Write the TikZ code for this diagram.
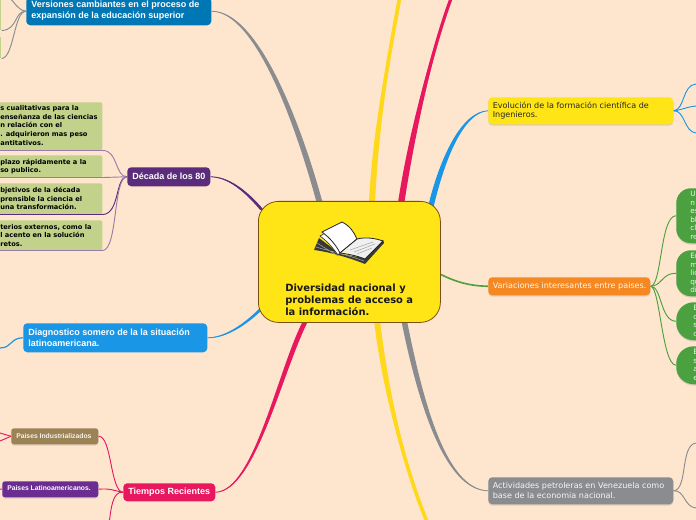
\documentclass[tikz,border=0pt]{standalone}
\usepackage{fontspec}
\setmainfont{Liberation Sans}
\newfontfamily\verd{DejaVu Sans}
\usetikzlibrary{shadows,calc}
\pgfdeclarelayer{bg}\pgfsetlayers{bg,main}
\definecolor{bgc}{HTML}{FEE6CE}
\definecolor{yel}{HTML}{FFE516}
\definecolor{ylin}{HTML}{FFD81C}
\definecolor{lime}{HTML}{C3D28A}
\definecolor{grn}{HTML}{4BA03F}
\definecolor{pur}{HTML}{5B2C7C}
\definecolor{purl}{HTML}{9A7BA6}
\definecolor{pur2}{HTML}{6B2D92}
\definecolor{pnk}{HTML}{E8185F}
\definecolor{blu}{HTML}{1A96E6}
\definecolor{dblu}{HTML}{0077B5}
\definecolor{gry}{HTML}{8A8C90}
\definecolor{brn}{HTML}{7A5010}
\definecolor{khk}{HTML}{9C8355}
\definecolor{org}{HTML}{F58820}
\newcommand\taper[8]{%
 \fill[#1] ($(#2)+(-#3,0)$) .. controls ($#4+(-#3,0)$) and ($#5+(-#7,-#8)$) .. (#6) .. controls ($#5+(#7,#8)$) and ($#4+(#3,0)$) .. ($(#2)+(#3,0)$) -- cycle;
 \draw[#1,line width=.6pt] (#2) .. controls #4 and #5 .. (#6);}
\tikzset{
 x=0.75pt,y=-0.75pt,
 box/.style={anchor=north west,inner sep=0pt,rounded corners=3pt},
 shad/.style={drop shadow={opacity=.25,shadow xshift=0pt,shadow yshift=-1pt}},
 lbl/.style={inner sep=0pt,anchor=west,align=left},
 boldw/.style={text=white,font=\bfseries\fontsize{6.75}{8.2}\selectfont},
 small/.style={lbl,text=white,font=\bfseries\fontsize{5.1}{6}\selectfont},
 topictxt/.style={lbl,font=\verd\fontsize{6.05}{6.9}\selectfont},
 limebox/.style={fill=lime,rounded corners=1.5pt,anchor=north west,inner sep=0pt,minimum width=110*0.75pt},
 limetxt/.style={lbl,font=\verd\bfseries\fontsize{5}{6.4}\selectfont,text=black},
 grnbox/.style={fill=grn,anchor=north west,inner sep=0pt,minimum width=50*0.75pt,shad},
 grntxt/.style={lbl,font=\verd\fontsize{5.5}{6.4}\selectfont,text=white!90!grn},
 thin1/.style={line width=0.7pt},
}
\begin{document}
\begin{tikzpicture}
\useasboundingbox (0,0) rectangle (696,520);
% nodes
\node[fill=yel,draw=brn,line width=.6pt,rounded corners=15pt,anchor=north west,minimum width=182*0.75pt,minimum height=121*0.75pt,inner sep=0pt] (c) at (258,201) {};
\node[box,fill=dblu,minimum width=185*0.75pt,minimum height=28*0.75pt] (v) at (26,-3) {};
\node[box,fill=pur,minimum width=83*0.75pt,minimum height=19*0.75pt] (d) at (127,167) {};
\node[box,fill=blu,minimum width=184*0.75pt,minimum height=29*0.75pt] (g) at (23,323) {};
\node[box,fill=pnk,minimum width=92*0.75pt,minimum height=18*0.75pt] (t) at (123,483) {};
\node[box,fill=khk,rounded corners=2pt,minimum width=87*0.75pt,minimum height=16*0.75pt,shad] (pi) at (11,428) {};
\node[box,fill=pur2,rounded corners=2pt,minimum width=96*0.75pt,minimum height=16*0.75pt,shad] (pl) at (2,481) {};
\node[box,fill=yel,minimum width=185*0.75pt,minimum height=27*0.75pt,shad] (e) at (488,97) {};
\node[box,fill=org,minimum width=162*0.75pt,minimum height=18*0.75pt,shad] (va) at (488,277) {};
\node[box,fill=gry,minimum width=185*0.75pt,minimum height=27*0.75pt,shad] (a) at (488,477) {};
\node[limebox,minimum height=48*0.75pt] (l1) at (-8,102) {};
\node[limebox,minimum height=22*0.75pt] (l2) at (-8,155) {};
\node[limebox,minimum height=31*0.75pt] (l3) at (-8,183) {};
\node[limebox,minimum height=30*0.75pt] (l4) at (-8,220) {};
\node[fill=lime,anchor=north west,inner sep=0pt,minimum width=9*0.75pt,minimum height=35*0.75pt] (v1) at (-8,-5) {};
\node[fill=lime,anchor=north west,inner sep=0pt,minimum width=9*0.75pt,minimum height=21*0.75pt] (v2) at (-8,37) {};
\node[grnbox,rounded corners=11pt,minimum height=55*0.75pt] (g1) at (676,188) {};
\node[grnbox,rounded corners=11pt,minimum height=46*0.75pt] (g2) at (676,250) {};
\node[grnbox,rounded corners=13pt,minimum height=38*0.75pt] (g3) at (676,302) {};
\node[grnbox,rounded corners=13pt,minimum height=38*0.75pt] (g4) at (676,346) {};
% free ends
\coordinate (cU1) at (320,204); \coordinate (cU2) at (372,204); \coordinate (cU3) at (401,204); \coordinate (cU4) at (431,206);
\coordinate (cR) at (438,273);
\coordinate (cD1) at (306,320); \coordinate (cD2) at (377,320); \coordinate (cD3) at (404,320);
\coordinate (cL1) at (262,210); \coordinate (cL2) at (262,308);
\coordinate (top2) at (400,-4); \coordinate (top3) at (452,-4); \coordinate (bot2) at (428,524);
\coordinate (f1) at (0,348); \coordinate (f2) at (109,524); \coordinate (f3) at (0,433); \coordinate (f4) at (0,441); \coordinate (f5) at (0,489);
\coordinate (f6) at (696,84); \coordinate (f7) at (696,106); \coordinate (f8) at (696,133);
\coordinate (f9) at (696,443); \coordinate (f10) at (696,508); \coordinate (f11) at (10,-2);
\begin{pgfonlayer}{bg}
\fill[bgc] (0,0) rectangle (696,520);
% main branches
\taper{gry}{cU1}{3}{(300,130)}{(258,11)}{v.east}{1.2}{-1.5}
\draw[ylin,line width=2.8pt] (cU2) .. controls (375,130) and (390,50) .. (top2);
\taper{ylin}{cU2}{3}{(375,130)}{(390,50)}{top2}{1}{0}
\draw[pnk,line width=2.4pt] (cU3) .. controls (412,130) and (435,40) .. (top3);
\taper{pnk}{cU3}{3.2}{(412,130)}{(435,40)}{top3}{1}{0}
\taper{blu}{cU4}{2.8}{(442,160)}{(462,112)}{e.west}{.8}{1.4}
\draw[grn,line width=1.2pt] (cR) .. controls (455,282) and (470,286) .. (va.west);
\taper{gry}{cD3}{2.8}{(420,400)}{(445,490)}{a.west}{.5}{-1.5}
\draw[ylin,line width=2.7pt] (cD2) .. controls (385,390) and (405,470) .. (bot2);
\taper{ylin}{cD2}{3}{(385,390)}{(405,470)}{bot2}{1}{0}
\taper{pnk}{cD1}{2.6}{(280,370)}{(255,491)}{t.east}{.5}{1.5}
\taper{blu}{cL2}{2}{(245,325)}{(225,338)}{g.east}{.4}{1}
\taper{pur}{cL1}{1.8}{(245,190)}{(228,177)}{d.east}{.3}{-.9}
% decade links
\draw[purl,thin1] (d.west) .. controls (115,177) and (118,150) .. (l1.south east);
\draw[purl,thin1] (d.west) -- (l2.south east);
\draw[pur,thin1] (d.west) .. controls (115,177) and (120,214) .. (l3.south east);
\draw[purl,thin1] (d.west) .. controls (113,177) and (118,250) .. (l4.south east);
% versiones links
\draw[gry,thin1] (v.west) .. controls (14,11) and (18,30) .. (v1.south east);
\draw[gry,thin1] (v.west) .. controls (14,11) and (14,58) .. (v2.south east);
\draw[gry,thin1] (f11) .. controls (16,5) and (20,11) .. (v.west);
% diag
\draw[blu,line width=.9pt] (g.west) .. controls (10,338) and (12,348) .. (f1);
% tiempos
\draw[pnk,thin1] (t.west) .. controls (110,491) and (112,436) .. (pi.east);
\draw[pnk,thin1] (t.west) .. controls (115,491) and (110,488) .. (pl.east);
\draw[pnk,thin1] (t.west) .. controls (112,491) and (111,510) .. (f2);
\draw[pnk,thin1] (pi.west) -- (f3);
\draw[pnk,thin1] (pi.west) -- (f4);
\draw[pnk,thin1] (pl.west) -- (f5);
% evolucion
\draw[blu,thin1] (e.east) .. controls (685,110) and (682,85) .. (f6);
\draw[blu,thin1] (e.east) .. controls (682,110) and (686,107) .. (f7);
\draw[blu,thin1] (e.east) .. controls (685,110) and (684,132) .. (f8);
% variaciones
\draw[grn,thin1] (va.east) .. controls (662,286) and (660,216) .. (g1.west);
\draw[grn,thin1] (va.east) .. controls (662,286) and (662,273) .. (g2.west);
\draw[grn,thin1] (va.east) .. controls (662,286) and (660,321) .. (g3.west);
\draw[grn,thin1] (va.east) .. controls (660,286) and (662,365) .. (g4.west);
% actividades
\draw[gry,thin1] (a.east) .. controls (688,490) and (680,445) .. (f9);
\draw[gry,thin1] (a.east) .. controls (685,490) and (684,507) .. (f10);
\end{pgfonlayer}
% bottom rules of the lime boxes
\draw[purl,line width=.8pt] (l1.south west) -- (l1.south east);
\draw[purl,line width=.8pt] (l2.south west) -- (l2.south east);
\draw[pur,line width=.8pt] (l3.south west) -- (l3.south east);
\draw[purl,line width=.8pt] (l4.south west) -- (l4.south east);
% text
\node[lbl,font=\verd\bfseries\fontsize{7.45}{9.2}\selectfont,text=black!90] (ct) at (285,300) {Diversidad nacional y\\problemas de acceso a\\la información.};
\node[lbl,boldw] (vt) at (31,10.5) {Versiones cambiantes en el proceso de\\expansión de la educación superior};
\node[lbl,boldw] (dt) at (132,176.5) {Década de los 80};
\node[lbl,boldw] (gt) at (28,337.5) {Diagnostico somero de la la situación\\latinoamericana.};
\node[lbl,boldw] (tt) at (128,492) {Tiempos Recientes};
\node[small,text=white!90!khk] (pit) at (16,436.5) {Paises Industrializados};
\node[small] (plt) at (7,488.5) {Paises Latinoamericanos.};
\node[topictxt,text=black!85] (et) at (492.5,110.5) {Evolución de la formación científica de\\Ingenieros.};
\node[topictxt,text=white!92!org] (vat) at (492.5,286) {Variaciones interesantes entre paises.};
\node[topictxt,text=white!92!gry] (at) at (492.5,490.5) {Actividades petroleras en Venezuela como\\base de la economia nacional.};
\node[limetxt] (l1t) at (0,125.5) {s cualitativas para la\\enseñanza de las ciencias\\n relación con el\\. adquirieron mas peso\\antitativos.};
\node[limetxt] (l2t) at (0,166.5) {plazo rápidamente a la\\so publico.};
\node[limetxt] (l3t) at (0,198.5) {bjetivos de la década\\prensible la ciencia el\\una transformación.};
\node[limetxt] (l4t) at (0,235.5) {terios externos, como la\\l acento en la solución\\retos.};
\node[grntxt] (g1t) at (690,215.5) {Ur\\n\\es\\bl\\cl\\re};
\node[grntxt] (g2t) at (690,273) {Er\\m\\lic\\qu\\di};
\node[grntxt] (g3t) at (693,321) {E\\c\\s\\c};
\node[grntxt] (g4t) at (693,365) {E\\s\\a\\e};
% book
\fill[black!78] (319,238) -- (314,250) .. controls (330,252) and (350,258) .. (365,264) -- (384,243) -- (383,240) -- (365,258) -- (340,254) -- cycle;
\draw[black!35,line width=.4pt] (317,243) -- (338,256) (316,247) .. controls (325,250) and (345,254) .. (364,261);
\draw[black!80,fill=white,line width=.5pt] (320,236) -- (338,226) -- (352,238) -- (338,255) .. controls (333,248) and (327,241) .. (320,236) -- cycle;
\draw[black!85,fill=white,line width=.6pt] (322,232) -- (342,222) .. controls (350,226) and (354,232) .. (357,239) -- (340,253) .. controls (336,245) and (330,238) .. (322,232) -- cycle;
\draw[black!85,fill=black!6,line width=.6pt] (340,253) -- (357,239) .. controls (365,237) and (375,238) .. (383,241) -- (365,259) .. controls (358,256) and (348,254) .. (340,253) -- cycle;
\draw[black!35,line width=.4pt] (350,250) -- (373,242) (354,252) -- (375,244) (357,254) -- (372,248);
\end{tikzpicture}
\end{document}
